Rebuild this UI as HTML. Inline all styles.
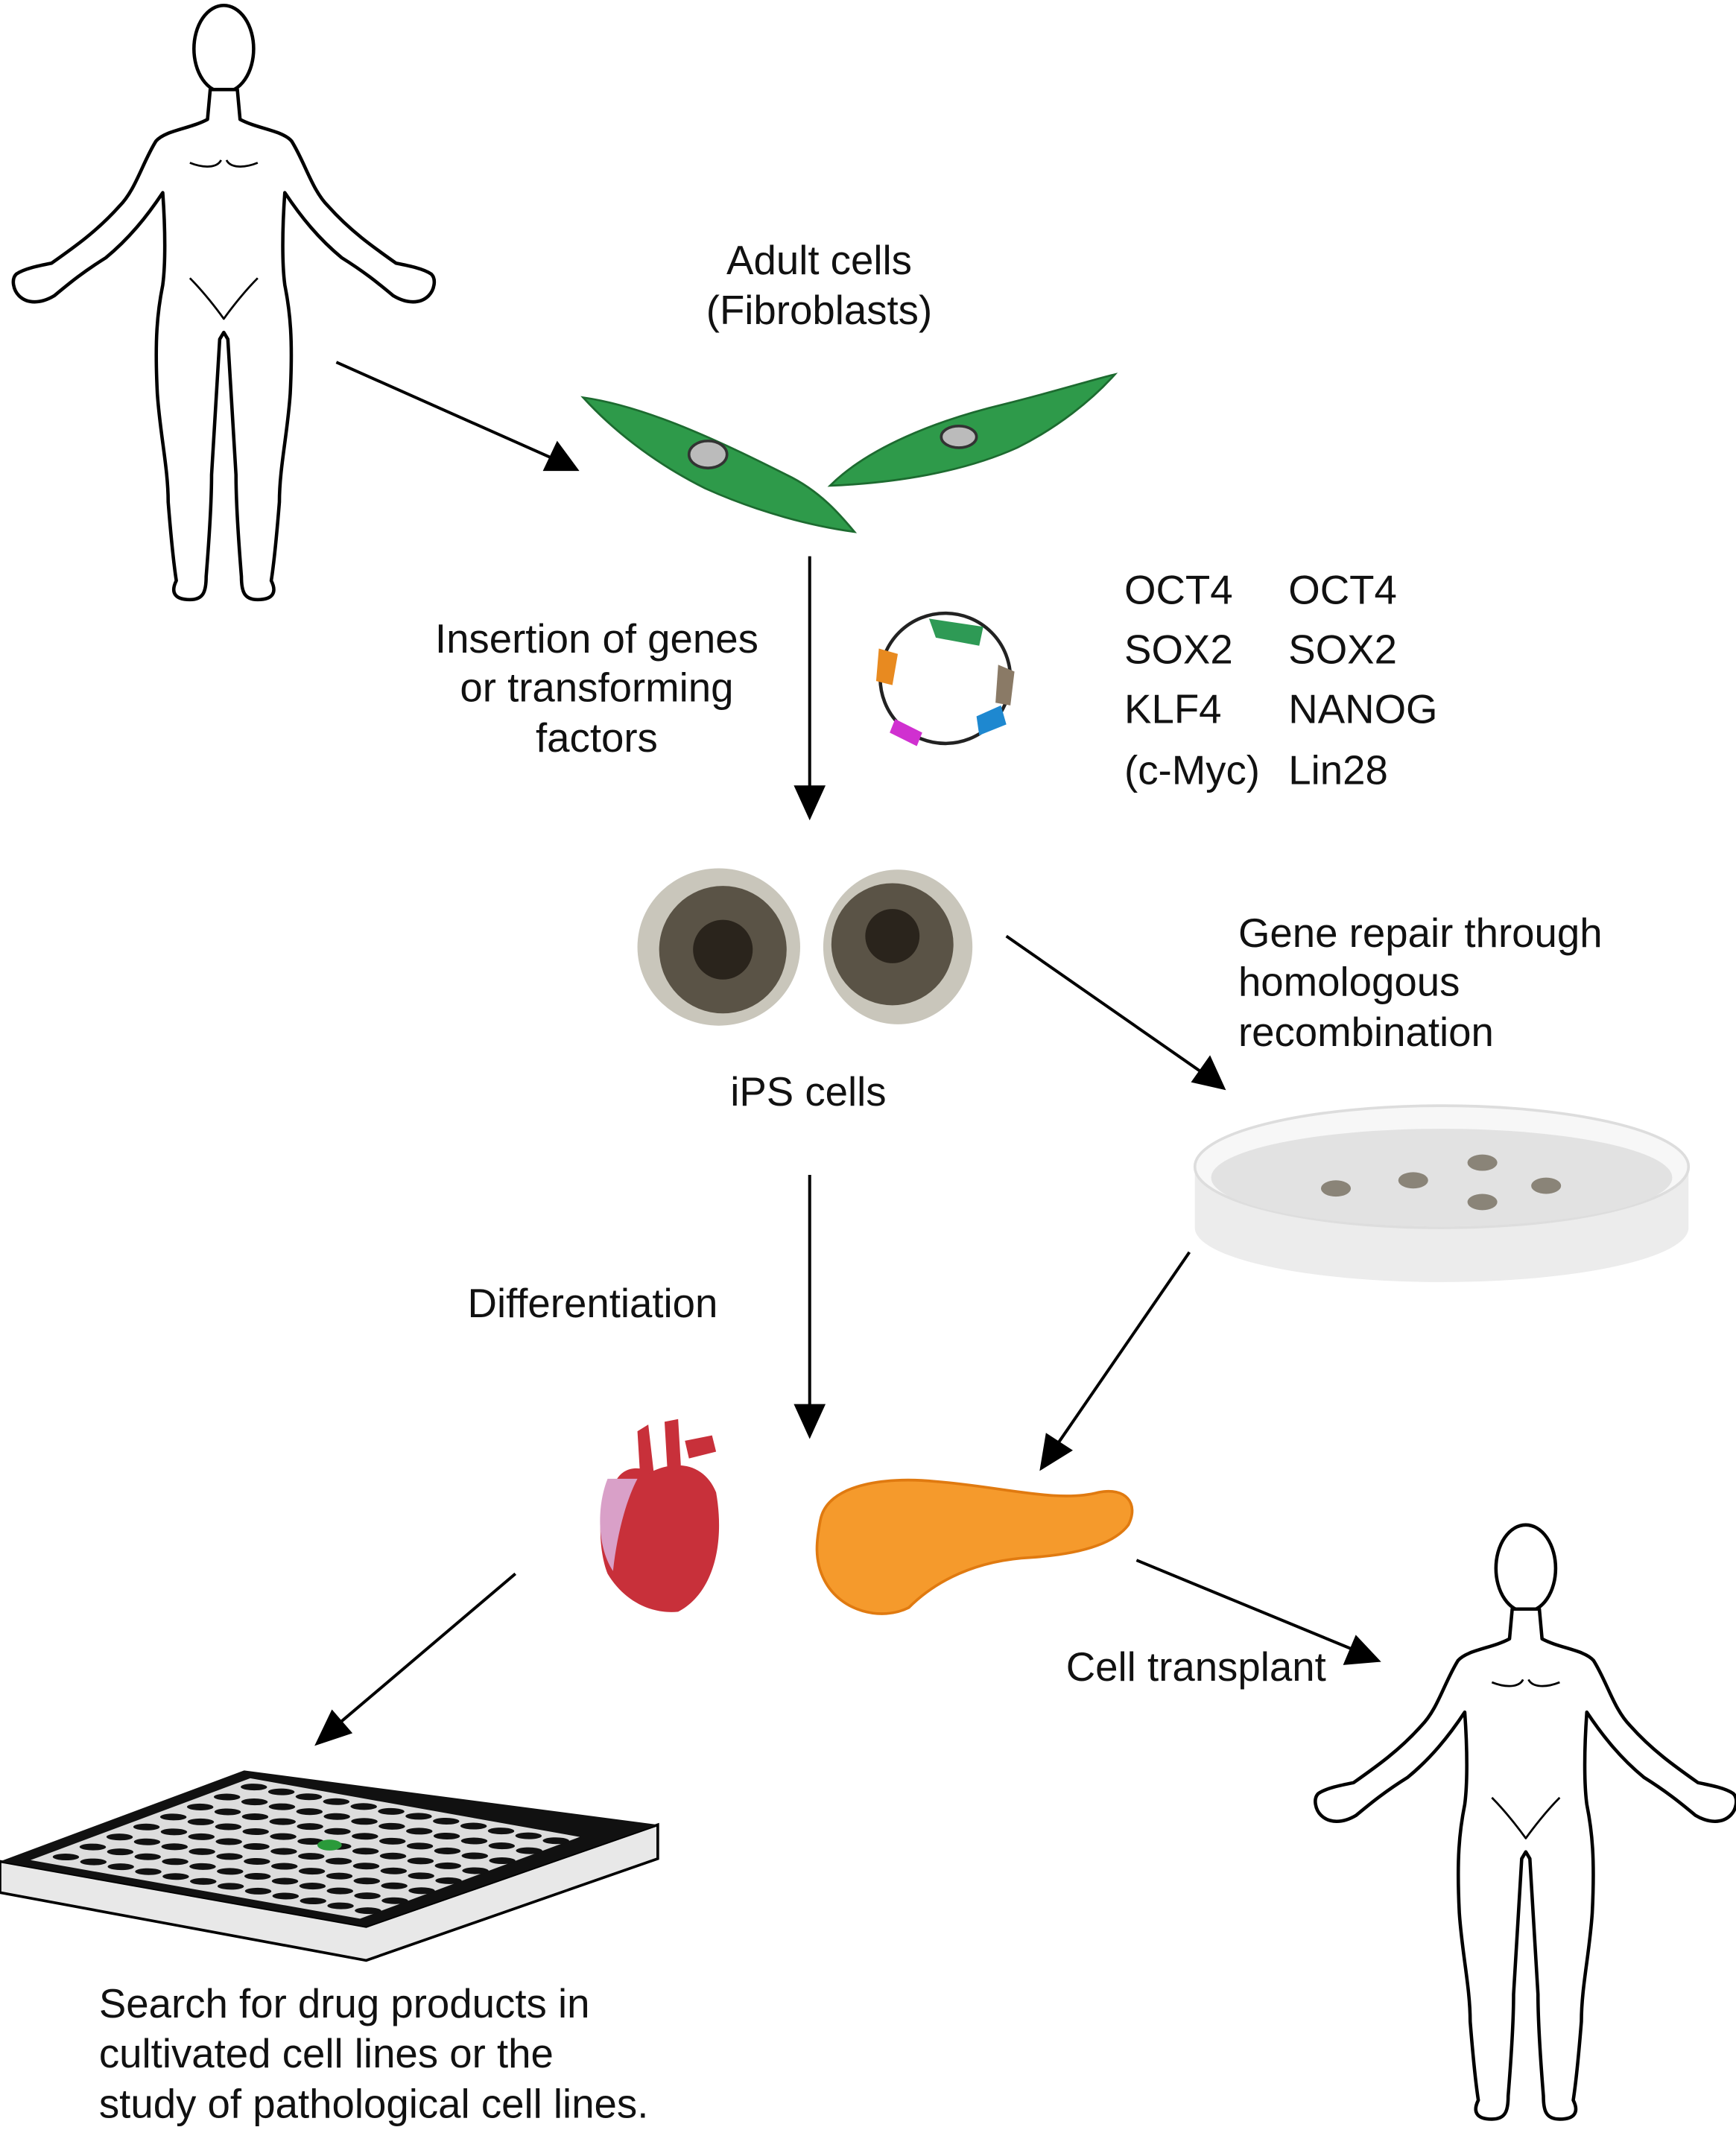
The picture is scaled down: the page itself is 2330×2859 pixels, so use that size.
<!DOCTYPE html>
<html><head><style>html,body{margin:0;padding:0;background:#fff}svg{display:block}</style></head>
<body>
<svg width="2330" height="2859" viewBox="0 0 1280 1570" preserveAspectRatio="none" xmlns="http://www.w3.org/2000/svg" font-family="Liberation Sans, sans-serif" font-size="30" fill="#111">
<defs>
<g id="man" fill="#fff" stroke="#000" stroke-width="2.5" stroke-linejoin="round">
<ellipse cx="165" cy="36" rx="22" ry="32"/>
<path d="M155,66 L153,88 C140,95 122,96 115,104 C105,120 100,140 88,152 C72,170 55,182 38,194 C28,196 18,198 12,202 C8,206 10,214 14,218 C20,224 30,224 40,218 C52,208 62,200 78,190 C95,176 108,160 120,142 C122,170 122,195 120,210 C116,230 114,250 116,290 C118,320 124,345 124,370 C126,395 128,415 130,428 C126,436 128,442 140,442 C150,442 152,436 152,425 C154,400 156,370 156,350 C158,320 160,280 162,250 L165,245 L168,250 C170,280 172,320 174,350 C174,370 176,400 178,425 C178,436 180,442 190,442 C202,442 204,436 200,428 C202,415 204,395 206,370 C206,345 212,320 214,290 C216,250 214,230 210,210 C208,195 208,170 210,142 C222,160 235,176 252,190 C268,200 278,208 290,218 C300,224 310,224 316,218 C320,214 322,206 318,202 C312,198 302,196 292,194 C275,182 258,170 242,152 C230,140 225,120 215,104 C208,96 190,95 177,88 L175,66 Z"/>
<path d="M140,120 C150,124 160,124 163,118 M190,120 C180,124 170,124 167,118 M140,205 C150,215 160,228 165,235 C170,228 180,215 190,205" fill="none" stroke-width="1.5"/>
</g>
</defs>

<use href="#man" x="0" y="0"/>
<use href="#man" x="960" y="1120"/>

<g stroke="#000" stroke-width="2.2" fill="#000">
<line x1="248" y1="267" x2="410" y2="339"/><polygon points="425,346 402,346 411,327"/>
<line x1="597" y1="410" x2="597" y2="582"/><polygon points="597,602 587,580 607,580"/>
<line x1="742" y1="690" x2="887" y2="791"/><polygon points="902,802 880,797 892,780"/>
<line x1="597" y1="866" x2="597" y2="1037"/><polygon points="597,1058 587,1036 607,1036"/>
<line x1="877" y1="923" x2="780" y2="1064"/><polygon points="768,1082 772,1058 789,1069"/>
<line x1="380" y1="1160" x2="248" y2="1272"/><polygon points="234,1285 245,1262 258,1277"/>
<line x1="838" y1="1150" x2="998" y2="1216"/><polygon points="1016,1224 992,1226 1000,1207"/>
</g>

<path d="M430,293 C480,300 540,330 580,350 C605,362 620,380 630,392 C600,388 560,378 520,360 C480,340 450,315 430,293 Z" fill="#2e9a4a" stroke="#1d6b30" stroke-width="1.5"/>
<path d="M612,358 C640,330 690,310 740,298 C780,288 805,280 822,276 C805,295 780,315 750,330 C710,348 660,356 612,358 Z" fill="#2e9a4a" stroke="#1d6b30" stroke-width="1.5"/>
<ellipse cx="522" cy="335" rx="14" ry="10" fill="#bbb" stroke="#333" stroke-width="2"/>
<ellipse cx="707" cy="322" rx="13" ry="8" fill="#bbb" stroke="#333" stroke-width="2"/>

<text x="604" y="202" text-anchor="middle">Adult cells</text>
<text x="604" y="239" text-anchor="middle">(Fibroblasts)</text>
<text x="440" y="481" text-anchor="middle">Insertion of genes</text>
<text x="440" y="517" text-anchor="middle">or transforming</text>
<text x="440" y="554" text-anchor="middle">factors</text>

<circle cx="697" cy="500" r="48" fill="none" stroke="#222" stroke-width="2.5"/>
<path d="M685,456 L725,462 L722,476 L690,470 Z" fill="#2e9a55"/>
<path d="M736,490 L748,495 L745,520 L734,518 Z" fill="#8a7a66"/>
<path d="M720,528 L738,520 L742,534 L722,542 Z" fill="#1e88d0"/>
<path d="M660,530 L680,540 L676,550 L656,540 Z" fill="#d030d0"/>
<path d="M648,478 L662,482 L658,505 L646,502 Z" fill="#e88a20"/>

<g>
<text x="829" y="445">OCT4</text><text x="950" y="445">OCT4</text>
<text x="829" y="489">SOX2</text><text x="950" y="489">SOX2</text>
<text x="829" y="533">KLF4</text><text x="950" y="533">NANOG</text>
<text x="829" y="578">(c-Myc)</text><text x="950" y="578">Lin28</text>
</g>

<ellipse cx="530" cy="698" rx="60" ry="58" fill="#c9c6bb"/>
<circle cx="533" cy="700" r="47" fill="#5a5346"/>
<circle cx="533" cy="700" r="22" fill="#2a241c"/>
<ellipse cx="662" cy="698" rx="55" ry="57" fill="#c9c6bb"/>
<circle cx="658" cy="696" r="45" fill="#5a5346"/>
<circle cx="658" cy="690" r="20" fill="#2a241c"/>
<text x="596" y="815" text-anchor="middle">iPS cells</text>

<text x="913" y="698">Gene repair through</text>
<text x="913" y="734">homologous</text>
<text x="913" y="771">recombination</text>

<path d="M881,860 L881,905 A182,40 0 0 0 1245,905 L1245,860 Z" fill="#ececec"/>
<ellipse cx="1063" cy="860" rx="182" ry="45" fill="#f7f7f7" stroke="#ddd" stroke-width="2"/>
<ellipse cx="1063" cy="868" rx="170" ry="36" fill="#e2e2e2"/>
<g fill="#8a8478">
<ellipse cx="985" cy="876" rx="11" ry="6"/><ellipse cx="1042" cy="870" rx="11" ry="6"/>
<ellipse cx="1093" cy="857" rx="11" ry="6"/><ellipse cx="1093" cy="886" rx="11" ry="6"/>
<ellipse cx="1140" cy="874" rx="11" ry="6"/></g>

<text x="437" y="971" text-anchor="middle">Differentiation</text>

<path d="M455,1090 C440,1100 440,1140 448,1160 C460,1180 480,1190 500,1188 C525,1175 535,1140 528,1100 C520,1080 500,1075 480,1085 C470,1080 460,1082 455,1090 Z" fill="#c8303a"/>
<path d="M448,1090 C440,1110 440,1140 452,1158 C455,1130 462,1105 470,1090 Z" fill="#d9a0c8"/>
<path d="M470,1055 L478,1050 L482,1085 L472,1088 Z M490,1048 L500,1046 L502,1080 L492,1082 Z M505,1062 L525,1058 L528,1070 L508,1075 Z" fill="#c8303a"/>

<path d="M605,1120 C610,1095 650,1088 690,1092 C740,1096 780,1108 810,1100 C830,1096 840,1108 832,1124 C820,1140 790,1146 760,1148 C720,1150 690,1165 670,1185 C650,1195 620,1188 608,1165 C600,1150 602,1135 605,1120 Z" fill="#f59a2c" stroke="#e07a10" stroke-width="2"/>

<text x="786" y="1239">Cell transplant</text>

<path d="M0,1372 L0,1395 L270,1445 L485,1370 L485,1345 L270,1420 Z" fill="#e8e8e8" stroke="#000" stroke-width="2"/>
<path d="M0,1372 L180,1305 L485,1345 L270,1420 Z" fill="#111"/>
<g transform="matrix(180,-67,270,48,0,1372)">
<path d="M0.05,0.05 L0.95,0.05 L0.95,0.95 L0.05,0.95 Z" fill="#ddd"/>
<g fill="#111">
<g id="row">
<circle cx="0.12" cy="0.1" r="0.03"/><circle cx="0.12" cy="0.175" r="0.03"/><circle cx="0.12" cy="0.25" r="0.03"/><circle cx="0.12" cy="0.325" r="0.03"/><circle cx="0.12" cy="0.4" r="0.03"/><circle cx="0.12" cy="0.475" r="0.03"/><circle cx="0.12" cy="0.55" r="0.03"/><circle cx="0.12" cy="0.625" r="0.03"/><circle cx="0.12" cy="0.7" r="0.03"/><circle cx="0.12" cy="0.775" r="0.03"/><circle cx="0.12" cy="0.85" r="0.03"/><circle cx="0.12" cy="0.925" r="0.03"/>
</g>
<use href="#row" x="0.11"/><use href="#row" x="0.22"/><use href="#row" x="0.33"/><use href="#row" x="0.44"/><use href="#row" x="0.55"/><use href="#row" x="0.66"/><use href="#row" x="0.77"/>
</g>
</g>
<ellipse cx="243" cy="1360" rx="9" ry="4" fill="#2a9a3a"/>

<text x="73" y="1487">Search for drug products in</text>
<text x="73" y="1524">cultivated cell lines or the</text>
<text x="73" y="1561">study of pathological cell lines.</text>
</svg>
</body></html>
